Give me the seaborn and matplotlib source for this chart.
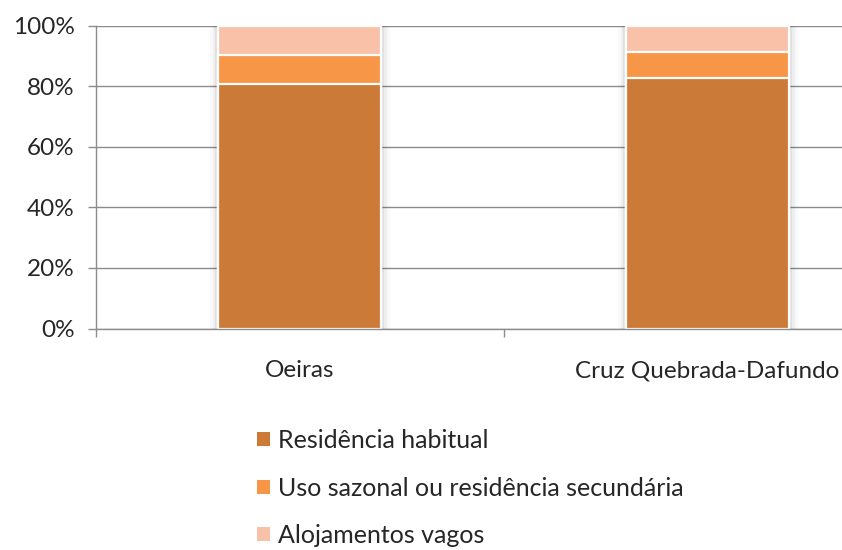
import matplotlib
matplotlib.use("Agg")
import matplotlib.pyplot as plt
import matplotlib.patheffects as pe
from matplotlib.ticker import PercentFormatter, FixedLocator
from matplotlib.patches import Patch
import seaborn as sns
import pandas as pd

# Dwelling use shares (% of dwellings) per area
areas = ["Oeiras", "Cruz Quebrada-Dafundo"]
habitual = [80.6, 82.6]
sazonal = [9.7, 8.8]
vagos = [9.7, 8.6]

series_names = ["Residência habitual",
                "Uso sazonal ou residência secundária",
                "Alojamentos vagos"]
colors = ["#CC7A38", "#F79646", "#F9C2A8"]

df = pd.DataFrame({"area": areas, "habitual": habitual,
                   "sazonal": sazonal, "vagos": vagos})
df["cum_hab"] = df["habitual"] / 100
df["cum_saz"] = (df["habitual"] + df["sazonal"]) / 100
df["cum_vag"] = (df["habitual"] + df["sazonal"] + df["vagos"]) / 100

sns.set_theme(style="white")
plt.rcParams["font.family"] = ["Lato", "DejaVu Sans"]

fig = plt.figure(figsize=(8.42, 5.5), dpi=100)
ax = fig.add_axes([95.5 / 842, 221.5 / 550, 816 / 842, 303 / 550])

grid_c = "#8C8C8C"
ax.set_axisbelow(True)
ax.yaxis.grid(True, color=grid_c, linewidth=1.0)

# Stacked bars: draw cumulative totals from the tallest down
layers = [("cum_vag", colors[2]), ("cum_saz", colors[1]), ("cum_hab", colors[0])]
for i, (col, c) in enumerate(layers):
    n_before = len(ax.patches)
    sns.barplot(data=df, x="area", y=col, color=c, width=0.4,
                edgecolor="white", linewidth=1.6, ax=ax, saturation=1)
    if i == 0:
        for p in ax.patches[n_before:]:
            p.set_path_effects([
                pe.Stroke(linewidth=12, foreground="black", alpha=0.025),
                pe.Stroke(linewidth=8, foreground="black", alpha=0.04),
                pe.Stroke(linewidth=4.5, foreground="black", alpha=0.06),
                pe.Normal(),
            ])

ax.set_xlim(-0.5, 1.5)
ax.set_ylim(0, 1)
ax.yaxis.set_major_locator(FixedLocator([0, 0.2, 0.4, 0.6, 0.8, 1.0]))
ax.yaxis.set_major_formatter(PercentFormatter(1.0, decimals=0))
ax.set_xlabel("")
ax.set_ylabel("")

for s in ["top", "right"]:
    ax.spines[s].set_visible(False)
for s in ["left", "bottom"]:
    ax.spines[s].set_color(grid_c)
    ax.spines[s].set_linewidth(1.0)

text_c = "#262626"
ax.tick_params(axis="y", which="major", left=True, length=6, width=1,
               color=grid_c, pad=9, labelsize=17.5, labelcolor=text_c)
ax.tick_params(axis="x", which="major", bottom=False, length=0, pad=23,
               labelsize=17.5, labelcolor=text_c)
ax.xaxis.set_minor_locator(FixedLocator([-0.5, 0.5, 1.5]))
ax.tick_params(axis="x", which="minor", bottom=True, length=6, width=1,
               color=grid_c)

handles = [Patch(facecolor=c, edgecolor="none") for c in colors]
fig.legend(handles, series_names, loc="upper left",
           bbox_to_anchor=(257 / 842, 1 - 429 / 550), frameon=False,
           fontsize=18, labelcolor=text_c, handlelength=0.5, handleheight=0.5,
           handletextpad=0.35, labelspacing=0.98, borderpad=0, borderaxespad=0)

fig.savefig("out.png", dpi=100)
